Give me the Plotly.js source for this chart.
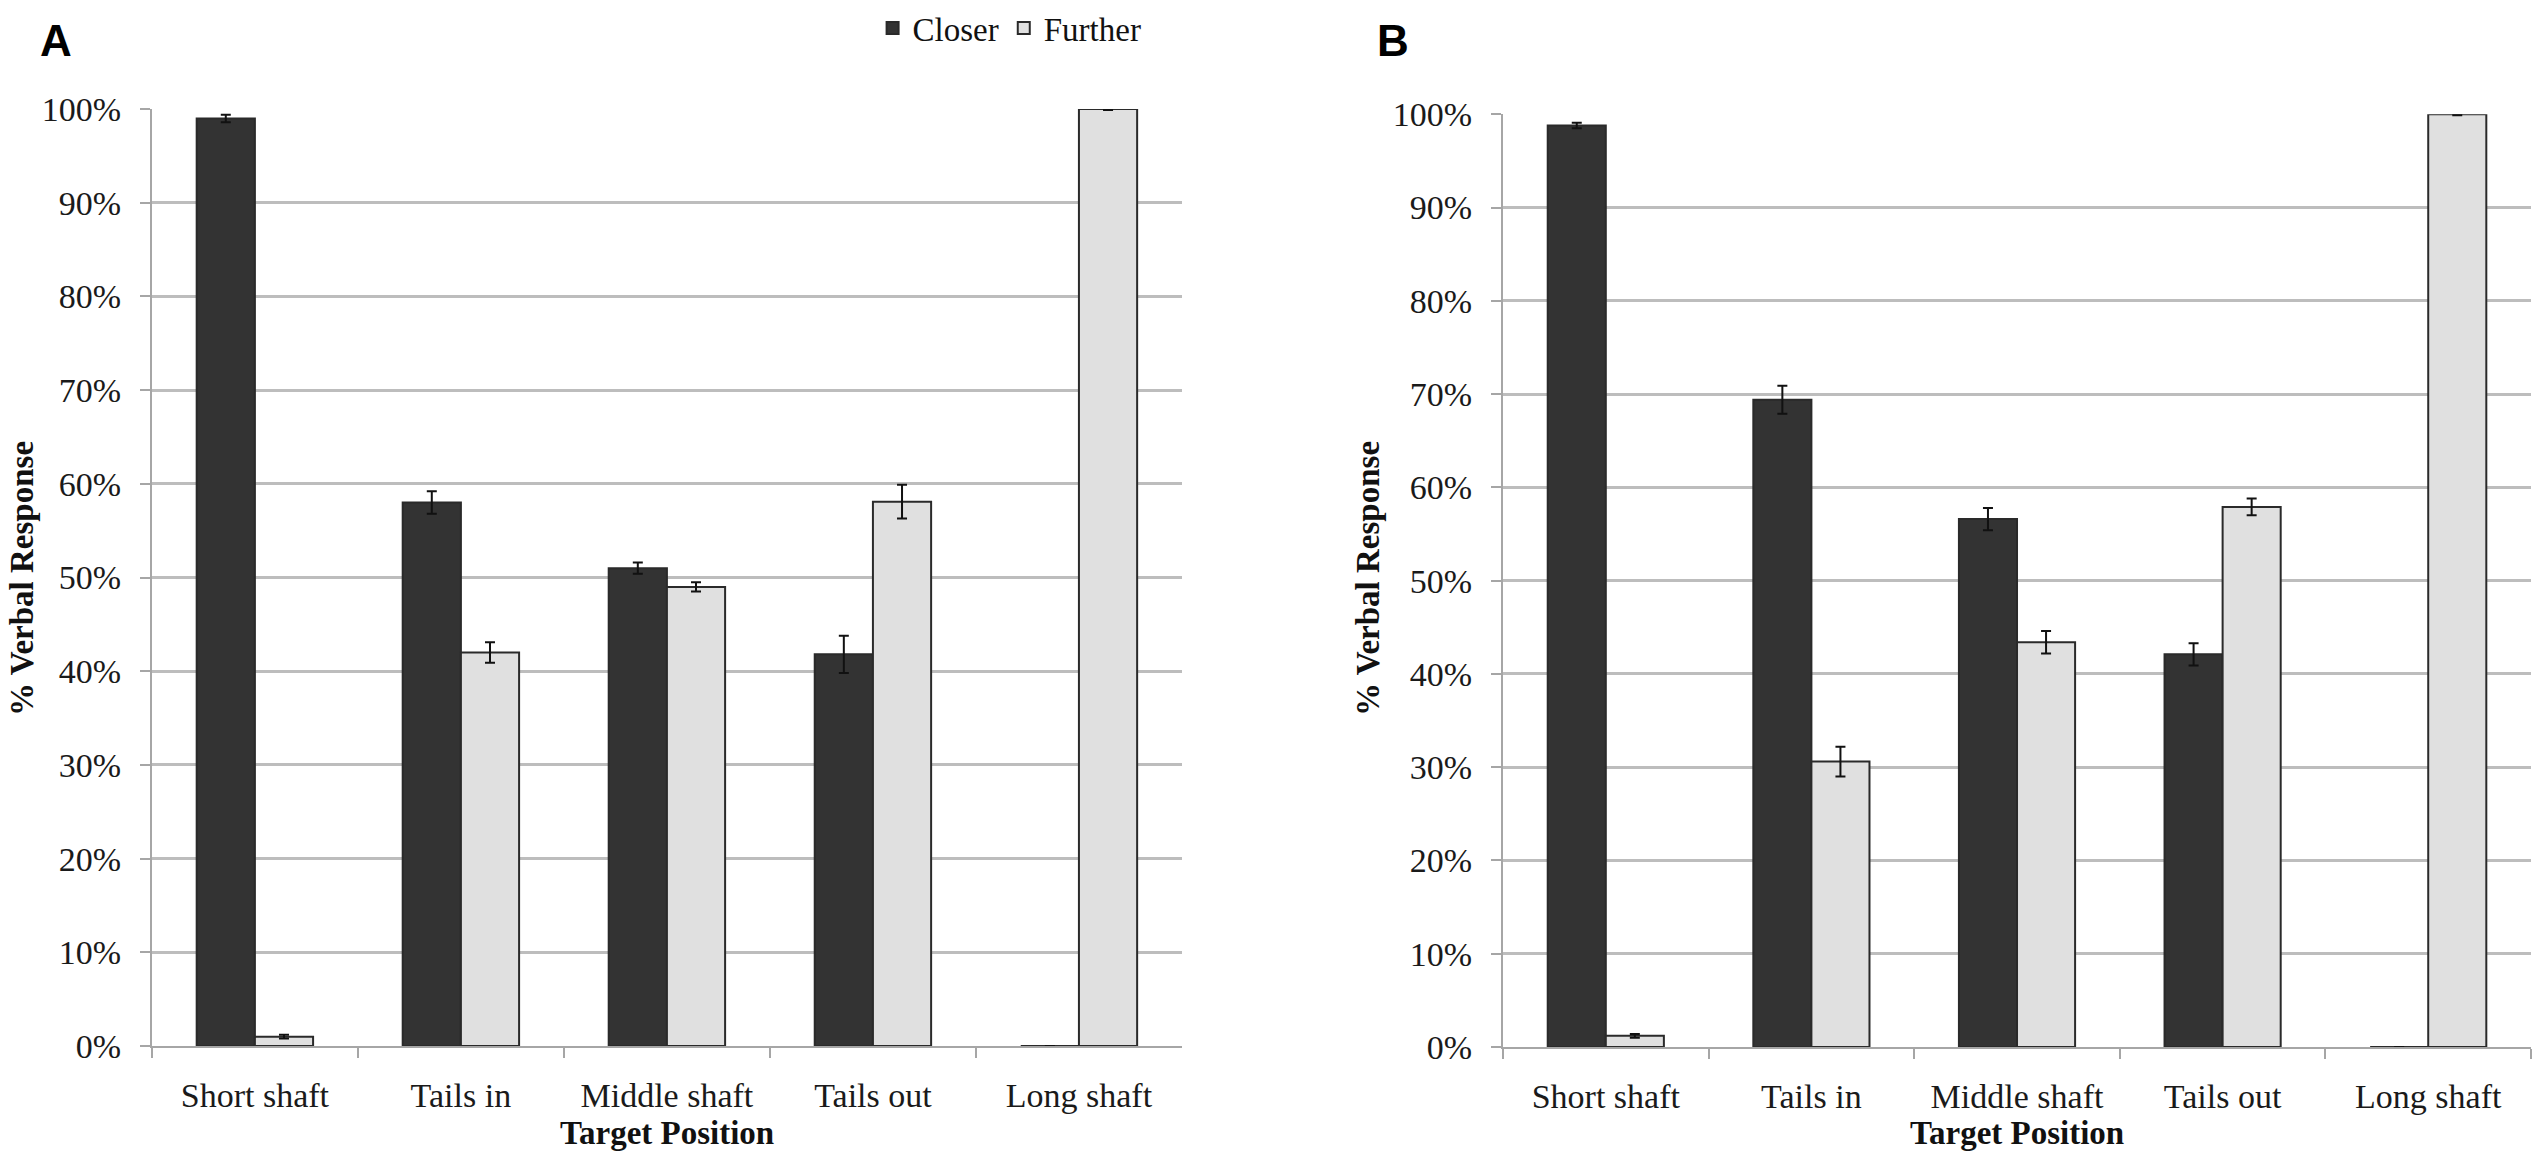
<!DOCTYPE html>
<html>
<head>
<meta charset="utf-8">
<script src="https://cdn.plot.ly/plotly-3.0.1.min.js"></script>
<style>
  html, body { margin: 0; padding: 0; background: #fff; }
  #chart { width: 2544px; height: 1171px; }
</style>
</head>
<body>
<div id="chart"></div>
<script>
// Verbal response by target position, panels A and B
const categories = ['Short shaft', 'Tails in', 'Middle shaft', 'Tails out', 'Long shaft'];

const closerA = [99.0, 58.0, 51.0, 41.8, 0];
const closerErrA = [0.4, 1.2, 0.6, 2.0, 0];
const furtherA = [1.0, 42.0, 49.0, 58.1, 100];
const furtherErrA = [0.2, 1.1, 0.5, 1.8, 0.1];

const closerB = [98.8, 69.4, 56.6, 42.1, 0];
const closerErrB = [0.3, 1.5, 1.2, 1.2, 0];
const furtherB = [1.2, 30.6, 43.4, 57.9, 100];
const furtherErrB = [0.2, 1.6, 1.2, 0.9, 0.1];

const serif = 'Liberation Serif, Times New Roman, serif';
const darkFill = '#333333';
const lightFill = '#e0e0e0';
const axisGrey = '#a6a6a6';

function errBar(arr) {
  return { type: 'data', array: arr, visible: true, color: '#111', thickness: 2, width: 5 };
}

function bars(name, y, err, fill, xa, ya, show) {
  return {
    type: 'bar', name: name, x: categories, y: y, xaxis: xa, yaxis: ya,
    showlegend: show, legendgroup: name,
    marker: { color: fill, line: { color: '#2a2a2a', width: 2 } },
    error_y: errBar(err),
    hoverinfo: 'skip'
  };
}

const data = [
  bars('Closer', closerA, closerErrA, darkFill, 'x', 'y', true),
  bars('Further', furtherA, furtherErrA, lightFill, 'x', 'y', true),
  bars('Closer', closerB, closerErrB, darkFill, 'x2', 'y2', false),
  bars('Further', furtherB, furtherErrB, lightFill, 'x2', 'y2', false)
];

function xAxis(domain, anchor) {
  return {
    domain: domain, anchor: anchor, type: 'category',
    showline: true, linecolor: axisGrey, linewidth: 2,
    ticks: 'outside', tickson: 'boundaries', ticklen: 10, tickwidth: 2, tickcolor: axisGrey,
    ticklabelstandoff: 18,
    tickfont: { family: serif, size: 34, color: '#1a1a1a' },
    showgrid: false, fixedrange: true
  };
}

function yAxis(domain, anchor) {
  return {
    domain: domain, anchor: anchor, range: [0, 100], dtick: 10, ticksuffix: '%',
    showline: true, linecolor: axisGrey, linewidth: 2,
    ticks: 'outside', ticklen: 10, tickwidth: 2, tickcolor: axisGrey,
    ticklabelstandoff: 12,
    showgrid: true, gridcolor: '#bdbdbd', gridwidth: 3, zeroline: false,
    tickfont: { family: serif, size: 34, color: '#1a1a1a' },
    fixedrange: true
  };
}

const titleFont = { family: serif, size: 33, color: '#111', weight: 'bold' };
const letterFont = { family: 'Liberation Sans, Arial, sans-serif', size: 44, color: '#000', weight: 'bold' };

const layout = {
  width: 2544, height: 1171, autosize: false,
  margin: { l: 0, r: 0, t: 0, b: 0 },
  paper_bgcolor: '#fff', plot_bgcolor: '#fff',
  barmode: 'group', bargap: 0.435, bargroupgap: 0,
  xaxis: xAxis([0.0597, 0.4646], 'y'),
  yaxis: yAxis([0.1067, 0.9069], 'x'),
  xaxis2: xAxis([0.5908, 0.9949], 'y2'),
  yaxis2: yAxis([0.1059, 0.9024], 'x2'),
  legend: {
    orientation: 'h', x: 0.343, xanchor: 'left', y: 1.0, yanchor: 'top',
    font: { family: serif, size: 33, color: '#111' },
    bgcolor: 'rgba(0,0,0,0)', itemwidth: 30, traceorder: 'normal'
  },
  annotations: [
    { text: 'A', xref: 'paper', yref: 'paper', x: 56 / 2544, y: 1 - 40 / 1171, xanchor: 'center', yanchor: 'middle', showarrow: false, font: letterFont },
    { text: 'B', xref: 'paper', yref: 'paper', x: 1393 / 2544, y: 1 - 40 / 1171, xanchor: 'center', yanchor: 'middle', showarrow: false, font: letterFont },
    { text: '% Verbal Response', xref: 'paper', yref: 'paper', x: 22 / 2544, y: 1 - 579 / 1171, textangle: -90, xanchor: 'center', yanchor: 'middle', showarrow: false, font: titleFont },
    { text: '% Verbal Response', xref: 'paper', yref: 'paper', x: 1368 / 2544, y: 1 - 579 / 1171, textangle: -90, xanchor: 'center', yanchor: 'middle', showarrow: false, font: titleFont },
    { text: 'Target Position', xref: 'paper', yref: 'paper', x: 0.2622, y: 1 - 1133 / 1171, xanchor: 'center', yanchor: 'middle', showarrow: false, font: titleFont },
    { text: 'Target Position', xref: 'paper', yref: 'paper', x: 0.7928, y: 1 - 1133 / 1171, xanchor: 'center', yanchor: 'middle', showarrow: false, font: titleFont }
  ]
};

Plotly.newPlot('chart', data, layout, { displayModeBar: false, staticPlot: true });
</script>
</body>
</html>
